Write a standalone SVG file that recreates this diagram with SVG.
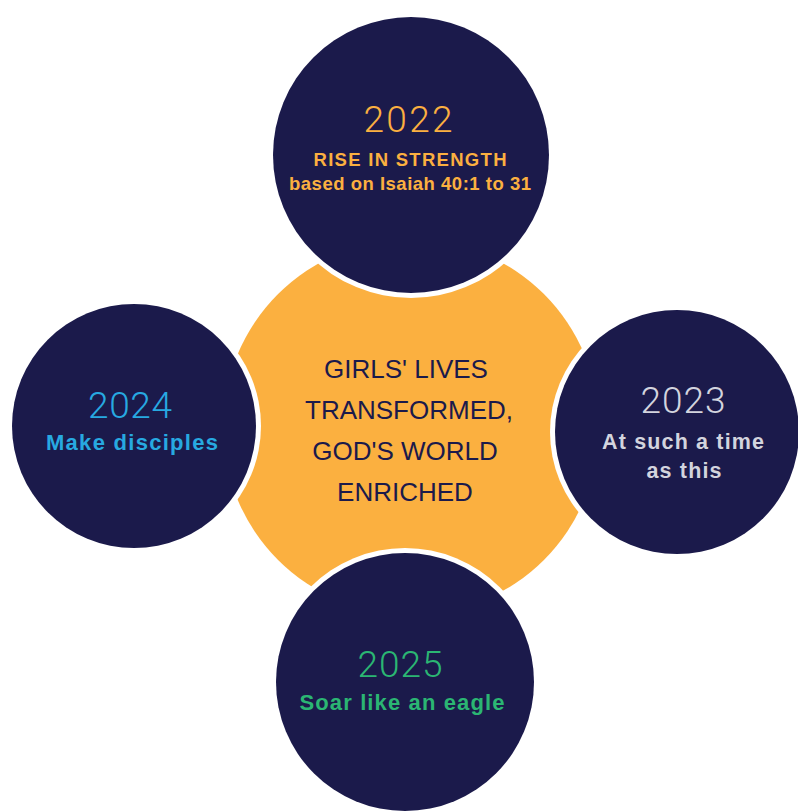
<svg xmlns="http://www.w3.org/2000/svg" width="798" height="811" viewBox="0 0 798 811">
<style>
.navy{fill:#1b1a4b}
.gap{fill:#ffffff}
.year{font-family:Roboto,"Liberation Sans",sans-serif;font-weight:300;font-size:37px;text-anchor:middle}
.sub{font-family:"Liberation Sans",Arial,sans-serif;font-weight:bold;text-anchor:middle}
.core{font-family:"Liberation Sans",Arial,sans-serif;font-size:26px;fill:#1b1a4b;text-anchor:middle}
</style>
<rect width="798" height="811" fill="#ffffff"/>
<g id="center">
<circle cx="411" cy="427" r="188" fill="#fbb040"/>
</g>
<g id="node-2022">
<circle class="gap" cx="411" cy="155" r="143"/>
<circle class="navy" cx="411" cy="155" r="138"/>
<text class="year" x="408" y="132" fill="#fbb040" textLength="89" lengthAdjust="spacing">2022</text>
<text class="sub" x="410" y="166" font-size="18.5" fill="#fbb040" textLength="193" lengthAdjust="spacing">RISE IN STRENGTH</text>
<text class="sub" x="410" y="190" font-size="18.5" fill="#fbb040" textLength="242" lengthAdjust="spacing">based on Isaiah 40:1 to 31</text>
</g>
<g id="node-2024">
<circle class="gap" cx="134" cy="426" r="127"/>
<circle class="navy" cx="134" cy="426" r="122"/>
<text class="year" x="130" y="418" fill="#27a9e1" textLength="84" lengthAdjust="spacing">2024</text>
<text class="sub" x="132" y="450" font-size="22" fill="#27a9e1" textLength="172" lengthAdjust="spacing">Make disciples</text>
</g>
<g id="node-2023">
<circle class="gap" cx="677" cy="432" r="127"/>
<circle class="navy" cx="677" cy="432" r="122"/>
<text class="year" x="683" y="413" fill="#d3d4de" textLength="85" lengthAdjust="spacing">2023</text>
<text class="sub" x="683" y="449" font-size="21.5" fill="#d3d4de" textLength="162" lengthAdjust="spacing">At such a time</text>
<text class="sub" x="684" y="478" font-size="21.5" fill="#d3d4de" textLength="75" lengthAdjust="spacing">as this</text>
</g>
<g id="node-2025">
<circle class="gap" cx="405" cy="682" r="134"/>
<circle class="navy" cx="405" cy="682" r="129"/>
<text class="year" x="400" y="677" fill="#2bb673" textLength="85" lengthAdjust="spacing">2025</text>
<text class="sub" x="402" y="710" font-size="22" fill="#2bb673" textLength="205" lengthAdjust="spacing">Soar like an eagle</text>
</g>
<g id="center-text">
<text class="core" x="406" y="378">GIRLS' LIVES</text>
<text class="core" x="409" y="419">TRANSFORMED,</text>
<text class="core" x="405" y="460">GOD'S WORLD</text>
<text class="core" x="405" y="501">ENRICHED</text>
</g>
<g id="connectors"></g>
</svg>
